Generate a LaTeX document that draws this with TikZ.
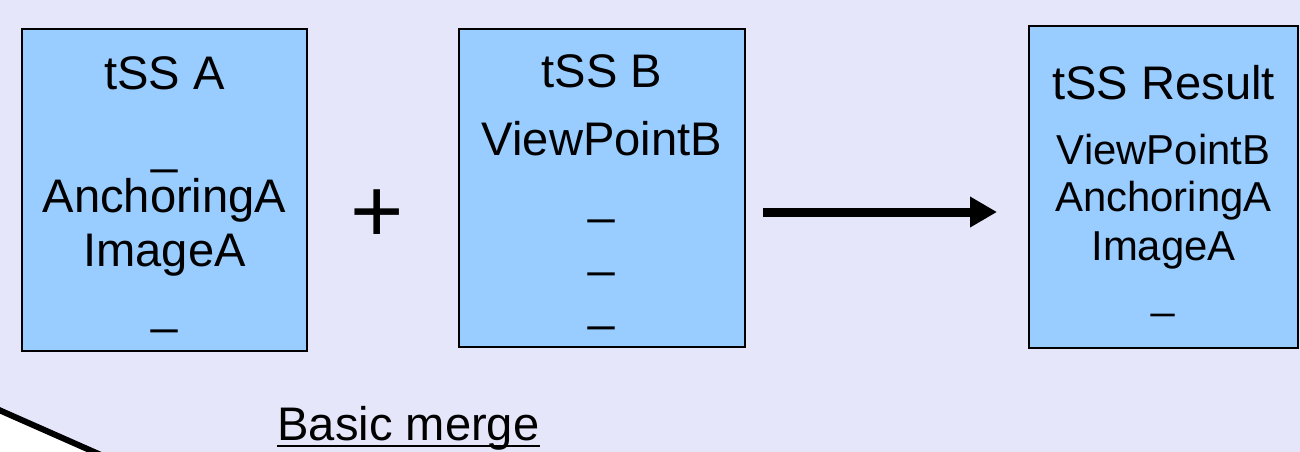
\documentclass[tikz,border=0pt]{standalone}
\usepackage{fontspec}
\setmainfont{Liberation Sans}
\usetikzlibrary{arrows.meta}

\definecolor{slidebg}{RGB}{230,230,250}
\definecolor{tssblue}{RGB}{153,204,255}

\tikzset{
  tssbox/.style={draw=black, line width=0.5pt, fill=tssblue},
  big/.style={anchor=base, inner sep=0pt, font=\fontsize{13.4}{16}\selectfont},
  small/.style={anchor=base, inner sep=0pt, font=\fontsize{11.9}{14}\selectfont},
  mergearrow/.style={line width=0.09cm, -{Triangle[length=0.27cm,width=0.29cm]}}
}

\begin{document}
\begin{tikzpicture}[x=0.01cm, y=-0.01cm]
\useasboundingbox (0,0) rectangle (1300,452);
\clip (0,0) rectangle (1300,452);

% fond de la diapo
\fill[slidebg] (0,0) rectangle (1300,452);

% coin en bas a gauche
\fill[white] (0,410) -- (96,452) -- (0,452) -- cycle;
\draw[line width=0.06cm] (-10,406) -- (110,459);

% les trois boites
\node[tssbox, minimum width=2.85cm, minimum height=3.22cm] (A) at (164.5,190) {};
\node[tssbox, minimum width=2.86cm, minimum height=3.18cm] (B) at (602,188) {};
\node[tssbox, minimum width=2.69cm, minimum height=3.22cm] (R) at (1163.5,187) {};

% textes de la boite A
\node[big] (a1) at (164.5,90) {tSS A};
\node[big] (a2) at (164.5,164) {\_};
\node[big] (a3) at (164.5,213) {AnchoringA};
\node[big] (a4) at (164.5,267) {ImageA};
\node[big] (a5) at (164.5,324) {\_};

% textes de la boite B
\node[big] (b1) at (602,88) {tSS B};
\node[big] (b2) at (602,156) {ViewPointB};
\node[big] (b3) at (602,214) {\_};
\node[big] (b4) at (602,267) {\_};
\node[big] (b5) at (602,321) {\_};

% textes du resultat
\node[big] (r1) at (1163.5,100) {tSS Result};
\node[small] (r2) at (1163.5,165) {ViewPointB};
\node[small] (r3) at (1163.5,212) {AnchoringA};
\node[small] (r4) at (1163.5,261) {ImageA};
\node[small] (r5) at (1163.5,309) {\_};

% plus et fleche
\node[anchor=base, inner sep=0pt, font=\fontsize{26}{30}\selectfont] (plus) at (377,243) {+};
\draw[mergearrow] ([shift={(0.17cm,-0.24cm)}]B.east) -- ([shift={(-0.31cm,-0.25cm)}]R.west);

% legende soulignee
\node[big] (caption) at (408.5,440) {Basic merge};
\draw[line width=0.02cm] ([yshift=-0.06cm]caption.base west) -- ([yshift=-0.06cm]caption.base east);
\end{tikzpicture}
\end{document}
